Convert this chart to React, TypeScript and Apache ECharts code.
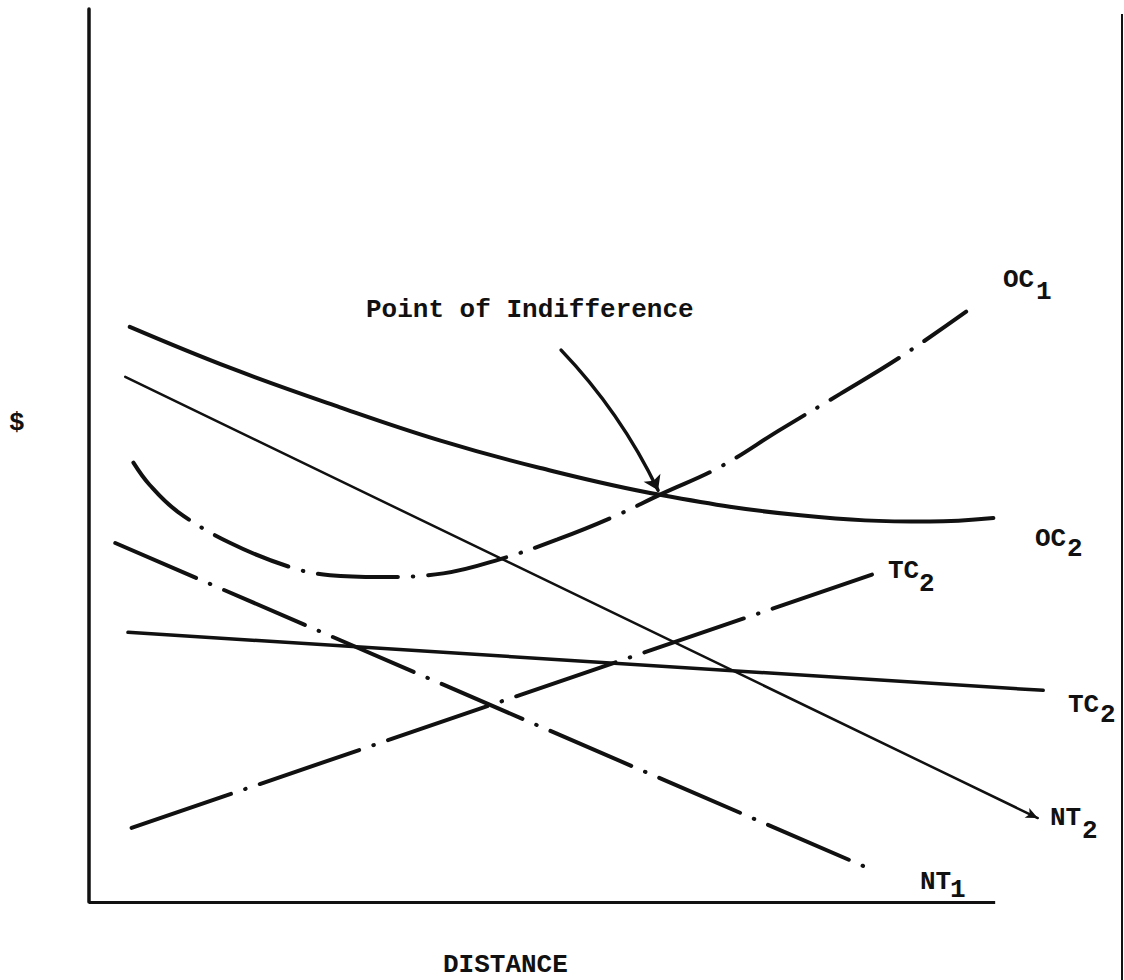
import React, { useEffect, useRef } from "react";
import * as echarts from "echarts";

// Data in abstract units: DISTANCE (x) and $ (y); axis drawn from 0 to 100 on both
const oc2Data = [[4.5, 64.4], [15.6, 59.8], [27.7, 55.4], [38.7, 51.7], [49.8, 48.6], [63.0, 45.6], [78.5, 43.3], [92.8, 42.6], [99.8, 43.0]];
const nt2Data = [[4.0, 58.8], [104.7, 9.4]];
const oc1Data = [[4.9, 49.2], [6.7, 46.7], [9.8, 43.7], [15.6, 40.2], [22.2, 37.5], [26.6, 36.6], [32.1, 36.4], [39.1, 36.8], [45.4, 38.4], [51.7, 40.6], [57.8, 43.1], [63.2, 45.7], [69.6, 48.7], [76.3, 52.9], [82.9, 56.9], [89.5, 61.0], [96.8, 66.1]];
const nt1Data = [[2.9, 40.2], [86.2, 3.7]];
const tc2DashData = [[4.7, 8.3], [86.8, 36.8]];
const tc2SolidData = [[4.3, 30.2], [105.3, 23.7]];
const arrowCoords = [[52.1, 61.8], [62.8, 46.1]];
const xAxisLine = [[0, 0], [100, 0]];

const INK = "#111";
const FONT = 'bold 26px "Liberation Mono", "DejaVu Sans Mono", monospace';

export default function App() {
  const ref = useRef<HTMLDivElement>(null);
  useEffect(() => {
    if (!ref.current) return;
    const chart = echarts.init(ref.current, null, { renderer: "svg" });
    const txt = (text: string, x: number, y: number) => ({
      type: "text",
      x,
      y,
      style: { text, font: FONT, fill: INK, align: "left", verticalAlign: "middle" },
    });
    const dashDot = (dash: number) => [dash, 15, 0.5, 15];
    const nt2Last = nt2Data[nt2Data.length - 1];
    chart.setOption({
      animation: false,
      backgroundColor: "#fff",
      grid: { left: 89, top: 9, right: 79, bottom: 78, outerBoundsMode: "none" },
      xAxis: {
        type: "value",
        min: 0,
        max: 105.5,
        axisLine: { show: false },
        axisTick: { show: false },
        axisLabel: { show: false },
        splitLine: { show: false },
      },
      yAxis: {
        type: "value",
        min: 0,
        max: 100,
        axisLine: { show: true, onZero: false, lineStyle: { color: INK, width: 3.5 } },
        axisTick: { show: false },
        axisLabel: { show: false },
        splitLine: { show: false },
      },
      series: [
        {
          name: "OC2",
          type: "line",
          data: oc2Data,
          smooth: 0.4,
          symbol: "none",
          clip: false,
          lineStyle: { color: INK, width: 4, cap: "round" },
        },
        {
          name: "NT2",
          type: "line",
          data: [
            ...nt2Data.slice(0, -1).map((p) => ({ value: p, symbol: "none" })),
            { value: nt2Last, symbol: "arrow", symbolSize: [8, 12], symbolRotate: -115.8 },
          ],
          showSymbol: true,
          symbol: "none",
          clip: false,
          itemStyle: { color: INK },
          lineStyle: { color: INK, width: 2.5, cap: "round" },
        },
        {
          name: "OC1",
          type: "line",
          data: oc1Data,
          smooth: 0.4,
          symbol: "none",
          clip: false,
          lineStyle: { color: INK, width: 4, cap: "round", type: dashDot(80) },
        },
        {
          name: "NT1",
          type: "line",
          data: nt1Data,
          symbol: "none",
          clip: false,
          lineStyle: { color: INK, width: 4, cap: "round", type: dashDot(88) },
        },
        {
          name: "TC2 dash",
          type: "line",
          data: tc2DashData,
          symbol: "none",
          clip: false,
          lineStyle: { color: INK, width: 4, cap: "round", type: dashDot(105) },
        },
        {
          name: "TC2",
          type: "line",
          data: tc2SolidData,
          symbol: "none",
          clip: false,
          lineStyle: { color: INK, width: 3.5, cap: "round" },
          markLine: {
            silent: true,
            symbol: ["none", "none"],
            label: { show: false },
            lineStyle: { color: INK, width: 3, type: "solid" },
            data: [[{ coord: xAxisLine[0] }, { coord: xAxisLine[1] }]],
          },
        },
        {
          name: "Point of Indifference arrow",
          type: "lines",
          coordinateSystem: "cartesian2d",
          symbol: ["none", "arrow"],
          symbolSize: 14,
          data: [{ coords: arrowCoords }],
          lineStyle: { color: INK, width: 3.5, curveness: 0.08, opacity: 1, cap: "round" },
        },
      ],
      graphic: [
        {
          type: "line",
          shape: { x1: 1122, y1: 14, x2: 1122, y2: 980 },
          style: { stroke: INK, lineWidth: 2 },
        },
        txt("Point of Indifference", 366, 310),
        txt("$", 9, 423),
        txt("DISTANCE", 443, 965),
        txt("OC", 1003, 280),
        txt("1", 1036, 292),
        txt("OC", 1035, 539),
        txt("2", 1067, 549),
        txt("TC", 888, 571),
        txt("2", 919, 584),
        txt("TC", 1068, 705),
        txt("2", 1100, 715),
        txt("NT", 1050, 818),
        txt("2", 1082, 831),
        txt("NT", 920, 882),
        txt("1", 950, 890),
      ],
    });
    return () => chart.dispose();
  }, []);
  return (
    <div
      ref={ref}
      style={{ position: "fixed", left: 0, top: 0, width: 1124, height: 980, background: "#fff" }}
    />
  );
}
